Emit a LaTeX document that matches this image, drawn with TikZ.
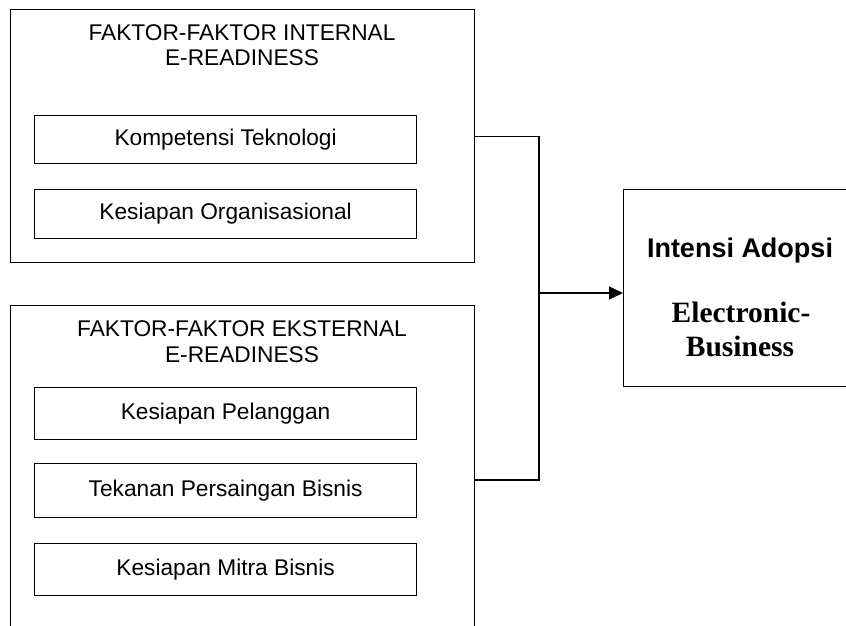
\documentclass[tikz,border=0pt]{standalone}
\usepackage{fontspec}
\setmainfont{Liberation Sans}
\newfontfamily\tmsfont{Liberation Serif}
\usetikzlibrary{arrows.meta}
\begin{document}
\begin{tikzpicture}[x=1pt,y=-1pt,
  box/.style={draw, line width=1.2pt, inner sep=0pt, anchor=north west},
  lbl/.style={font=\fontsize{22.7}{25}\selectfont, anchor=base, inner sep=0pt},
  item/.style={box, minimum width=382pt, font=\fontsize{22.7}{25}\selectfont, text height=13pt, text depth=2pt},
  conn/.style={line width=1.2pt},
  bigsans/.style={font=\fontsize{27}{30}\selectfont\bfseries, anchor=base, inner sep=0pt},
  bigserif/.style={font=\tmsfont\fontsize{29.5}{34}\selectfont\bfseries, anchor=base, inner sep=0pt}
]
\useasboundingbox (0,0) rectangle (846,625);
\clip (0,0) rectangle (846,625);
% internal factors
\node[box, minimum width=464pt, minimum height=253pt] (internal) at (10,9) {};
\node[lbl] (intT1) at (242,40) {FAKTOR-FAKTOR INTERNAL};
\node[lbl] (intT2) at (242,65) {E-READINESS};
\node[item, minimum height=48pt] (kt) at (34,115) {Kompetensi Teknologi};
\node[item, minimum height=49pt] (ko) at (34,189) {Kesiapan Organisasional};
% external factors
\node[box, minimum width=464pt, minimum height=400pt] (external) at (10,305) {};
\node[lbl] (extT1) at (242,336) {FAKTOR-FAKTOR EKSTERNAL};
\node[lbl] (extT2) at (242,362) {E-READINESS};
\node[item, minimum height=52pt] (kp) at (34,387) {Kesiapan Pelanggan};
\node[item, minimum height=54pt] (tp) at (34,463) {Tekanan Persaingan Bisnis};
\node[item, minimum height=52pt] (km) at (34,543) {Kesiapan Mitra Bisnis};
% target
\node[box, minimum width=300pt, minimum height=197pt] (intensi) at (623,189) {};
\node[bigsans] (ia) at (740,257) {Intensi Adopsi};
\node[bigserif] (eb1) at (741,322) {Electronic-};
\node[bigserif] (eb2) at (740,356) {Business};
% connectors
\coordinate (join) at (539,293);
\coordinate (extc) at (474,480);
\draw[conn] (internal.east) -| (join) |- (extc);
\draw[conn, -{Triangle[length=14pt,width=13pt]}] (join) -- (intensi.west |- join);
\end{tikzpicture}
\end{document}
